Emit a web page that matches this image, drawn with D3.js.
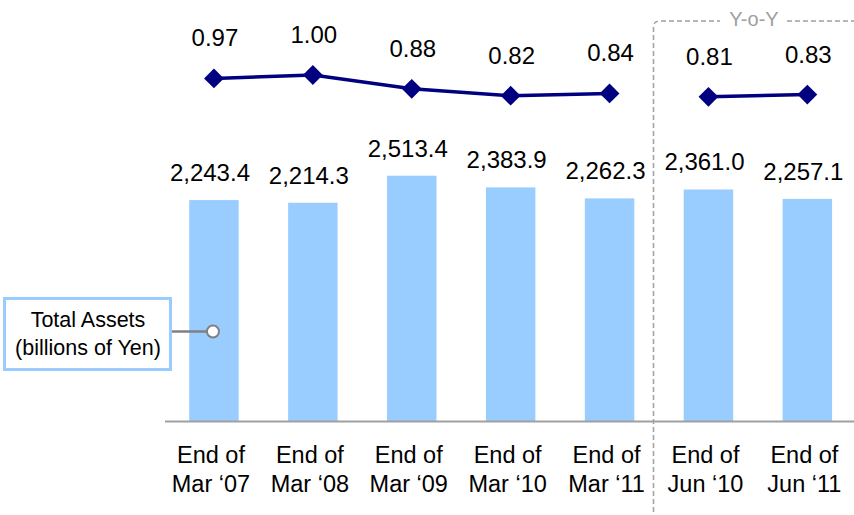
<!DOCTYPE html>
<html>
<head>
<meta charset="utf-8">
<script src="https://cdn.jsdelivr.net/npm/d3@7"></script>
<style>
  html, body { margin: 0; padding: 0; background: #fff; }
  svg { display: block; font-family: "Liberation Sans", Arial, sans-serif; }
</style>
</head>
<body>
<svg id="chart" width="854" height="515"></svg>
<script>
const categories = ["End of|Mar \u201807", "End of|Mar \u201808", "End of|Mar \u201809", "End of|Mar \u201810", "End of|Mar \u201811", "End of|Jun \u201810", "End of|Jun \u201811"];
const totalAssets = [2243.4, 2214.3, 2513.4, 2383.9, 2262.3, 2361.0, 2257.1];
const ratios = [0.97, 1.00, 0.88, 0.82, 0.84, 0.81, 0.83];
const lineGroups = [[0, 1, 2, 3, 4], [5, 6]];
const legendLines = ["Total Assets", "(billions of Yen)"];
const yoyLabel = "Y-o-Y";

const svg = d3.select("#chart");
const barColor = "#99ccff";
const lineColor = "#000080";

const x = d3.scaleBand().domain(categories).range([164.5, 856.8]).paddingInner(0.5).paddingOuter(0.25);
const y = d3.scaleLinear().domain([-200, 2513.4]).range([421, 175.7]);
const yr = d3.scaleLinear().domain([0.8, 1.0]).range([98, 75]);

// Y-o-Y dashed frame
const fx = 653.5, fy = 21, r = 6;
const frame = svg.append("g").attr("fill", "none").attr("stroke", "#a0a0a0")
  .attr("stroke-width", 1.5).attr("stroke-dasharray", "5,3");
frame.append("path").attr("d", `M${fx},512 L${fx},${fy + r} Q${fx},${fy} ${fx + r},${fy} L720,${fy}`);
frame.append("path").attr("d", `M787,${fy} L860,${fy}`);
svg.append("text").attr("x", 754).attr("y", 26).attr("text-anchor", "middle")
  .attr("font-size", 20).attr("fill", "#a0a0a0").text(yoyLabel);

// Bars
svg.append("g").selectAll("rect").data(totalAssets).join("rect")
  .attr("x", (d, i) => x(categories[i]))
  .attr("width", x.bandwidth())
  .attr("y", d => y(d))
  .attr("height", d => y(-200) - y(d))
  .attr("fill", barColor);

// Bar labels
svg.append("g").selectAll("text").data(totalAssets).join("text")
  .attr("x", (d, i) => x(categories[i]) + x.bandwidth() / 2 - 4)
  .attr("y", d => y(d) - 19)
  .attr("text-anchor", "middle").attr("font-size", 24).attr("fill", "#000")
  .text(d => d3.format(",.1f")(d));

// X axis
const xAxis = d3.axisBottom(x).tickSize(0).tickPadding(0).tickFormat("");
const ax = svg.append("g").attr("transform", "translate(0,421)").call(xAxis);
ax.attr("font-family", null);
ax.select(".domain").attr("stroke", "#a0a0a0").attr("stroke-width", 2);
ax.selectAll(".tick text").remove();
ax.selectAll(".tick").each(function(d) {
  const t = d3.select(this).append("text").attr("text-anchor", "middle")
    .attr("font-size", 23.5).attr("fill", "#000");
  d.split("|").forEach((s, k) => {
    t.append("tspan").attr("x", -3).attr("y", 42 + k * 29).text(s);
  });
});

// Ratio line
const cx = i => x(categories[i]) + x.bandwidth() / 2;
const lineGen = d3.line().x(i => cx(i)).y(i => yr(ratios[i]));
svg.append("g").selectAll("path").data(lineGroups).join("path")
  .attr("d", lineGen).attr("fill", "none").attr("stroke", lineColor).attr("stroke-width", 3.5);
svg.append("g").selectAll("path").data(ratios).join("path")
  .attr("d", d3.symbol(d3.symbolDiamond2, 250)())
  .attr("transform", (d, i) => `translate(${cx(i)},${yr(d)})`)
  .attr("fill", lineColor);
svg.append("g").selectAll("text").data(ratios).join("text")
  .attr("x", (d, i) => cx(i) + 1)
  .attr("y", d => yr(d) - 32)
  .attr("text-anchor", "middle").attr("font-size", 24).attr("fill", "#000")
  .text(d => d3.format(".2f")(d));

// Legend callout
svg.append("rect").attr("x", 4.5).attr("y", 298.5).attr("width", 166).attr("height", 71)
  .attr("fill", "#fff").attr("stroke", barColor).attr("stroke-width", 3);
svg.append("g").selectAll("text").data(legendLines).join("text")
  .attr("x", 88).attr("y", (d, i) => 327 + i * 28)
  .attr("text-anchor", "middle").attr("font-size", 21.5).attr("fill", "#000").text(d => d);
svg.append("line").attr("x1", 172).attr("x2", 207).attr("y1", 331.5).attr("y2", 331.5)
  .attr("stroke", "#808080").attr("stroke-width", 2.5);
svg.append("circle").attr("cx", cx(0) - 1).attr("cy", 331.5).attr("r", 6)
  .attr("fill", "#fff").attr("stroke", "#808080").attr("stroke-width", 2);
</script>
</body>
</html>
